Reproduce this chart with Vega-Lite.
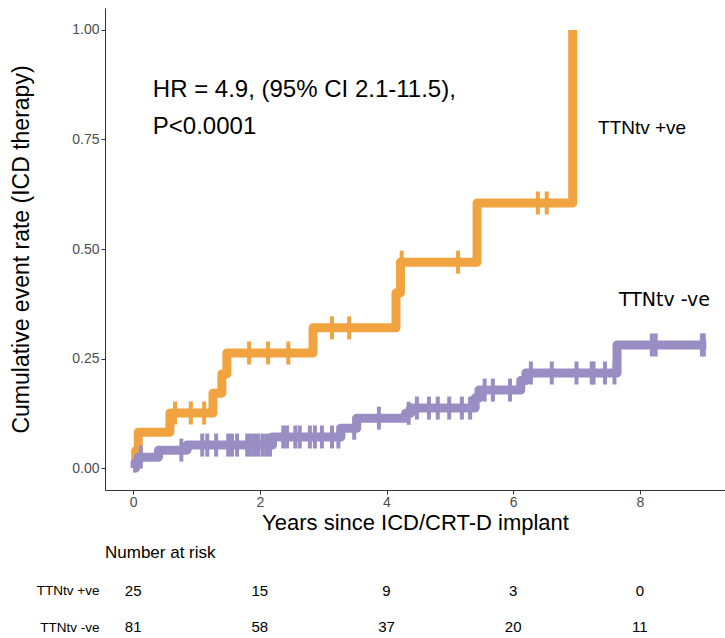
{
  "$schema": "https://vega.github.io/schema/vega-lite/v6.json",
  "padding": {"left": 10, "top": 8, "right": 0, "bottom": 0},
  "background": "white",
  "config": {"view": {"stroke": null}, "font": "Liberation Sans", "concat": {"spacing": 10}},
  "datasets": {
    "steps": [
      {"group": "TTNtv +ve", "t": 0, "r": 0},
      {"group": "TTNtv +ve", "t": 0.04, "r": 0.04},
      {"group": "TTNtv +ve", "t": 0.08, "r": 0.082},
      {"group": "TTNtv +ve", "t": 0.58, "r": 0.1256},
      {"group": "TTNtv +ve", "t": 1.26, "r": 0.171},
      {"group": "TTNtv +ve", "t": 1.4, "r": 0.215},
      {"group": "TTNtv +ve", "t": 1.48, "r": 0.2626},
      {"group": "TTNtv +ve", "t": 2.84, "r": 0.32},
      {"group": "TTNtv +ve", "t": 4.15, "r": 0.4},
      {"group": "TTNtv +ve", "t": 4.22, "r": 0.47},
      {"group": "TTNtv +ve", "t": 5.43, "r": 0.605},
      {"group": "TTNtv +ve", "t": 6.94, "r": 1.0},
      {"group": "TTNtv -ve", "t": 0, "r": 0},
      {"group": "TTNtv -ve", "t": 0.03, "r": 0.012},
      {"group": "TTNtv -ve", "t": 0.08, "r": 0.025},
      {"group": "TTNtv -ve", "t": 0.4, "r": 0.041},
      {"group": "TTNtv -ve", "t": 0.85, "r": 0.0525},
      {"group": "TTNtv -ve", "t": 2.2, "r": 0.071},
      {"group": "TTNtv -ve", "t": 3.28, "r": 0.091},
      {"group": "TTNtv -ve", "t": 3.53, "r": 0.114},
      {"group": "TTNtv -ve", "t": 4.3, "r": 0.125},
      {"group": "TTNtv -ve", "t": 4.38, "r": 0.137},
      {"group": "TTNtv -ve", "t": 5.4, "r": 0.16},
      {"group": "TTNtv -ve", "t": 5.46, "r": 0.178},
      {"group": "TTNtv -ve", "t": 6.12, "r": 0.2},
      {"group": "TTNtv -ve", "t": 6.2, "r": 0.217},
      {"group": "TTNtv -ve", "t": 7.64, "r": 0.281},
      {"group": "TTNtv -ve", "t": 9.05, "r": 0.281}
    ],
    "censor": [
      {"group": "TTNtv +ve", "t": 0.66, "r": 0.1256},
      {"group": "TTNtv +ve", "t": 0.91, "r": 0.1256},
      {"group": "TTNtv +ve", "t": 1.12, "r": 0.1256},
      {"group": "TTNtv +ve", "t": 1.83, "r": 0.2626},
      {"group": "TTNtv +ve", "t": 2.13, "r": 0.2626},
      {"group": "TTNtv +ve", "t": 2.45, "r": 0.2626},
      {"group": "TTNtv +ve", "t": 3.14, "r": 0.32},
      {"group": "TTNtv +ve", "t": 3.41, "r": 0.32},
      {"group": "TTNtv +ve", "t": 4.24, "r": 0.47},
      {"group": "TTNtv +ve", "t": 5.13, "r": 0.47},
      {"group": "TTNtv +ve", "t": 6.39, "r": 0.605},
      {"group": "TTNtv +ve", "t": 6.53, "r": 0.605},
      {"group": "TTNtv -ve", "t": 0.12, "r": 0.025},
      {"group": "TTNtv -ve", "t": 0.76, "r": 0.041},
      {"group": "TTNtv -ve", "t": 1.09, "r": 0.0525},
      {"group": "TTNtv -ve", "t": 1.17, "r": 0.0525},
      {"group": "TTNtv -ve", "t": 1.31, "r": 0.0525},
      {"group": "TTNtv -ve", "t": 1.5, "r": 0.0525},
      {"group": "TTNtv -ve", "t": 1.56, "r": 0.0525},
      {"group": "TTNtv -ve", "t": 1.64, "r": 0.0525},
      {"group": "TTNtv -ve", "t": 1.8, "r": 0.0525},
      {"group": "TTNtv -ve", "t": 1.85, "r": 0.0525},
      {"group": "TTNtv -ve", "t": 1.91, "r": 0.0525},
      {"group": "TTNtv -ve", "t": 1.97, "r": 0.0525},
      {"group": "TTNtv -ve", "t": 2.04, "r": 0.0525},
      {"group": "TTNtv -ve", "t": 2.1, "r": 0.0525},
      {"group": "TTNtv -ve", "t": 2.16, "r": 0.0525},
      {"group": "TTNtv -ve", "t": 2.37, "r": 0.071},
      {"group": "TTNtv -ve", "t": 2.43, "r": 0.071},
      {"group": "TTNtv -ve", "t": 2.56, "r": 0.071},
      {"group": "TTNtv -ve", "t": 2.63, "r": 0.071},
      {"group": "TTNtv -ve", "t": 2.79, "r": 0.071},
      {"group": "TTNtv -ve", "t": 2.87, "r": 0.071},
      {"group": "TTNtv -ve", "t": 2.98, "r": 0.071},
      {"group": "TTNtv -ve", "t": 3.14, "r": 0.071},
      {"group": "TTNtv -ve", "t": 3.24, "r": 0.071},
      {"group": "TTNtv -ve", "t": 3.49, "r": 0.091},
      {"group": "TTNtv -ve", "t": 3.88, "r": 0.114},
      {"group": "TTNtv -ve", "t": 4.35, "r": 0.125},
      {"group": "TTNtv -ve", "t": 4.48, "r": 0.137},
      {"group": "TTNtv -ve", "t": 4.67, "r": 0.137},
      {"group": "TTNtv -ve", "t": 4.81, "r": 0.137},
      {"group": "TTNtv -ve", "t": 4.99, "r": 0.137},
      {"group": "TTNtv -ve", "t": 5.19, "r": 0.137},
      {"group": "TTNtv -ve", "t": 5.32, "r": 0.137},
      {"group": "TTNtv -ve", "t": 5.55, "r": 0.178},
      {"group": "TTNtv -ve", "t": 5.68, "r": 0.178},
      {"group": "TTNtv -ve", "t": 5.95, "r": 0.178},
      {"group": "TTNtv -ve", "t": 6.28, "r": 0.217},
      {"group": "TTNtv -ve", "t": 6.61, "r": 0.217},
      {"group": "TTNtv -ve", "t": 7.0, "r": 0.217},
      {"group": "TTNtv -ve", "t": 7.24, "r": 0.217},
      {"group": "TTNtv -ve", "t": 7.27, "r": 0.217},
      {"group": "TTNtv -ve", "t": 7.45, "r": 0.217},
      {"group": "TTNtv -ve", "t": 7.6, "r": 0.217},
      {"group": "TTNtv -ve", "t": 8.19, "r": 0.281},
      {"group": "TTNtv -ve", "t": 8.25, "r": 0.281},
      {"group": "TTNtv -ve", "t": 8.98, "r": 0.281},
      {"group": "TTNtv -ve", "t": 9.01, "r": 0.281}
    ],
    "risk": [
      {"group": "TTNtv +ve", "t": 0, "n": "25"},
      {"group": "TTNtv +ve", "t": 2, "n": "15"},
      {"group": "TTNtv +ve", "t": 4, "n": "9"},
      {"group": "TTNtv +ve", "t": 6, "n": "3"},
      {"group": "TTNtv +ve", "t": 8, "n": "0"},
      {"group": "TTNtv -ve", "t": 0, "n": "81"},
      {"group": "TTNtv -ve", "t": 2, "n": "58"},
      {"group": "TTNtv -ve", "t": 4, "n": "37"},
      {"group": "TTNtv -ve", "t": 6, "n": "20"},
      {"group": "TTNtv -ve", "t": 8, "n": "11"}
    ]
  },
  "vconcat": [
    {
      "width": 620,
      "height": 482,
      "layer": [
        {
          "data": {"name": "steps"},
          "mark": {"type": "line", "interpolate": "step-after", "strokeWidth": 9, "strokeJoin": "round", "strokeCap": "butt"},
          "encoding": {
            "x": {"field": "t", "type": "quantitative",
                  "scale": {"domain": [-0.445, 9.345], "nice": false, "zero": false},
                  "axis": {"values": [0, 2, 4, 6, 8], "format": "d", "title": "Years since ICD/CRT-D implant",
                           "grid": false, "domainColor": "#333333", "tickColor": "#333333", "tickSize": 4,
                           "labelFontSize": 14, "labelColor": "#4d4d4d", "labelPadding": 1,
                           "titleFontSize": 22, "titleFontWeight": "normal", "titleColor": "black", "titlePadding": 3}},
            "y": {"field": "r", "type": "quantitative",
                  "scale": {"domain": [-0.05, 1.05], "nice": false, "zero": false},
                  "axis": {"values": [0, 0.25, 0.5, 0.75, 1], "format": ".2f", "title": "Cumulative event rate (ICD therapy)",
                           "grid": false, "domainColor": "#333333", "tickColor": "#333333", "tickSize": 4,
                           "labelFontSize": 14, "labelColor": "#4d4d4d", "labelPadding": 2,
                           "titleFontSize": 23, "titleFontWeight": "normal", "titleColor": "black", "titlePadding": 38}},
            "color": {"field": "group", "type": "nominal",
                      "scale": {"domain": ["TTNtv +ve", "TTNtv -ve"], "range": ["#f1a340", "#998ec3"]}, "legend": null}
          }
        },
        {
          "data": {"name": "censor"},
          "mark": {"type": "tick", "orient": "vertical", "thickness": 4, "size": 23, "opacity": 1},
          "encoding": {
            "x": {"field": "t", "type": "quantitative"},
            "y": {"field": "r", "type": "quantitative"},
            "color": {"field": "group", "type": "nominal", "legend": null}
          }
        },
        {
          "data": {"values": [{"t": 0.31, "r": 0.863, "label": "HR = 4.9, (95% CI 2.1-11.5),"}, {"t": 0.31, "r": 0.779, "label": "P<0.0001"}]},
          "mark": {"type": "text", "align": "left", "baseline": "middle", "fontSize": 24, "font": "Liberation Sans", "color": "black"},
          "encoding": {
            "x": {"field": "t", "type": "quantitative"},
            "y": {"field": "r", "type": "quantitative"},
            "text": {"field": "label"}
          }
        },
        {
          "data": {"values": [{"t": 7.34, "r": 0.776, "label": "TTNtv +ve"}]},
          "mark": {"type": "text", "align": "left", "baseline": "middle", "fontSize": 19, "font": "Liberation Sans", "color": "black"},
          "encoding": {
            "x": {"field": "t", "type": "quantitative"},
            "y": {"field": "r", "type": "quantitative"},
            "text": {"field": "label"}
          }
        },
        {
          "data": {"values": [{"t": 7.67, "r": 0.384, "label": "TTNtv -ve"}]},
          "mark": {"type": "text", "align": "left", "baseline": "middle", "fontSize": 19, "font": "DejaVu Sans", "color": "black"},
          "encoding": {
            "x": {"field": "t", "type": "quantitative"},
            "y": {"field": "r", "type": "quantitative"},
            "text": {"field": "label"}
          }
        }
      ]
    },
    {
      "width": 620,
      "height": 50,
      "title": {"text": "Number at risk", "anchor": "start", "frame": "group", "fontSize": 17, "fontWeight": "normal", "offset": 22, "font": "Liberation Sans", "color": "black"},
      "data": {"name": "risk"},
      "mark": {"type": "text", "fontSize": 15, "baseline": "middle", "color": "black"},
      "encoding": {
        "x": {"field": "t", "type": "quantitative", "scale": {"domain": [-0.445, 9.345], "nice": false, "zero": false}, "axis": null},
        "y": {"field": "group", "type": "nominal",
              "scale": {"type": "point", "padding": 0.194, "domain": ["TTNtv +ve", "TTNtv -ve"]},
              "axis": {"title": null, "domain": false, "ticks": false, "labelFontSize": 13.5, "labelPadding": 6, "labelColor": "black"}},
        "text": {"field": "n"}
      }
    }
  ]
}
